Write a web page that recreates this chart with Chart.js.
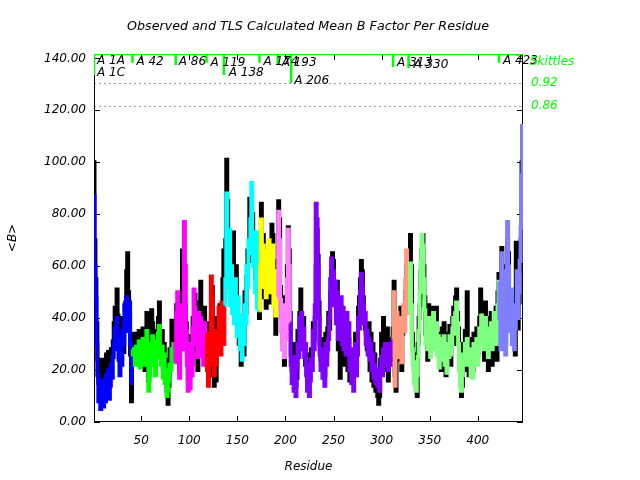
<!DOCTYPE html>
<html><head><meta charset="utf-8">
<script src="https://cdn.jsdelivr.net/npm/chart.js@4/dist/chart.umd.min.js"></script>
<style>html,body{margin:0;padding:0;background:#fff}canvas{display:block}</style>
</head><body>
<canvas id="c" width="640" height="480"></canvas>
<script>
// Observed mean B per residue (black)
const obsB = [
 100,70,55,38,24,15,22,12,20,24, 14,20,17,26,21,27,15,20,28,25, 31,38,44,35,51,41,30,24,36,29, 40,27,37,46,58,65,50,42,26,8, 30,
 30,34,26,33,28,25,35,26,32,22, 36,30,20,33,42,32,16,22,36,43, 38,27,33,22,35,30,40,46,33,26, 35,21,30,18,24,12,7,14,28,25, 39,33,35,27,
 34,45,36,28,20,42,48,66,44,50, 45,38,26,16,24,18,33,22,40,38, 49,28,42,20,46,36,54,30,42,25, 44,32,38,
 24,20,34,18,40,52,30,14,28,16, 40,32,36,45,30,40,55,66,50,
 70,101,85,60,66,55,50,64,73,45, 48,60,42,40,30,34,22,28,40,26, 50,42,56,66,62,86,70,75,80,65, 72,55,60,48,62,40,
 64,84,62,72,48,66,44,60,62,66, 46,70,76,72,50,62,34,58,52,
 85,78,52,40,30,45,22,48,36,60, 75,66,42,
 26,20,30,16,24,14,17,35,28,42, 51,38,32,40,30,22,24,16,26,18, 20,28,26,38,32,40,60,74,64,46,
 30,24,32,21,19,18,34,26,36,42, 36,50,58,65,62,50,48,44,54,28, 40,17,44,26,40,22,36,30,38,20,
 32,16,24,20,26,18,24,34,22,30, 44,48,55,62,58,48,40,36,34,28, 30,38,20,34,16,30,14,26,12,18,
 10,7,10,24,34,22,40,30,26,20, 36,16,32,28,24,30,36,
 54,18,12,38,24,40,30,44,20,34, 40,42,50,60,56,62,46,
 72,60,34,26,20,18,14,10,30,40, 45,58,66,72,60,48,34,42,24,45, 36,30,40,44,38,32,42,44,30,28,
 25,34,20,36,22,38,26,18,24,34, 28,37,22,35,40,44,30,48,51,42, 36,24,18,10,14,30,26,35,20,50,
 30,18,32,24,22,20,34,30,28,36, 26,34,40,51,45,40,42,24,46,28, 40,20,38,26,42,22,30,38,40,44, 24,50,57,
 45,32,67,60,40,55,30,50,70,65, 44,40,48,34,38,32,26,69,60,36, 46,58,70,100,114
];
// TLS calculated mean B per residue (coloured by TLS group)
const calcB = [
 87,60,48,30,18,8,14,5,10,16, 6,12,8,18,12,20,9,14,22,17, 25,30,36,28,40,32,24,18,28,22, 35,30,45,38,48,43,35,46,30,15, 28,
 26,28,22,29,24,27,31,21,28,25, 32,27,22,30,35,28,12,18,30,26, 33,22,29,18,31,25,34,37,28,22, 29,17,26,15,20,10,12,16,22,20, 28,25,30,23,
 30,42,50,24,17,38,45,28,40,77, 60,35,22,12,20,13,30,18,36,51, 44,30,38,25,42,32,40,26,36,22, 38,28,34,
 20,14,30,22,56,48,25,18,32,22, 35,28,44,36,26,46,38,30,45,
 55,88,70,52,74,45,60,42,50,38, 55,40,33,48,36,28,41,24,35,30, 45,38,60,52,70,65,78,92,72,60, 68,50,73,44,58,43,
 60,78,55,68,52,62,48,66,58,70, 50,64,55,68,45,58,41,55,48,
 81,70,47,35,28,40,25,45,32,55, 74,60,38,
 22,15,25,12,18,10,20,30,25,40, 34,42,28,36,25,30,18,12,22,10, 16,24,20,35,28,45,84,78,60,40,
 26,20,28,17,24,14,30,22,28,32, 40,55,63,50,58,45,54,38,50,32, 46,36,48,30,44,28,40,26,42,30,
 38,20,28,15,22,12,20,30,18,26, 40,36,50,57,52,45,38,42,30,35, 26,32,24,30,20,26,17,22,15,20,
 14,18,12,20,25,18,28,22,30,24, 30,20,27,22,30,26,32,
 50,14,30,42,28,36,25,40,23,38, 45,35,55,66,50,58,42,
 61,45,28,22,15,23,12,18,25,35, 50,62,72,68,55,43,30,38,28,40, 32,25,36,30,42,28,35,38,26,33,
 21,30,24,32,27,33,22,28,19,30, 25,33,26,30,36,40,34,42,46,38, 30,20,14,12,18,26,22,30,24,32,
 26,22,28,18,25,17,30,26,24,32, 22,28,36,30,41,35,38,28,40,32, 36,25,35,30,38,28,34,42,36,40, 30,45,54,
 40,28,65,50,35,58,26,45,77,60, 48,35,51,30,42,28,36,45,58,40, 50,62,75,95,114
];
const groupStart = [1, 42, 86, 119, 138, 174, 193, 206, 313, 330, 423];
const groupColor = ['#0000ff','#00ff00','#ff00ff','#ff0000','#00ffff','#ffff00','#ff80ff','#8000ff','#ff9980','#80ff80','#8080ff'];
const xTicks = [50, 100, 150, 200, 250, 300, 350, 400];
const yTicks = [0, 20, 40, 60, 80, 100, 120, 140];
const rightTicks = [0.92, 0.86];
// Skittles trace (right axis)
const skRes = [1, 20, 41, 86, 106, 118, 136, 173, 192, 206, 312, 328, 422, 441];
const skVal = [0.942, 0.992, 0.974, 0.968, 0.990, 0.974, 0.942, 0.974, 0.968, 0.921, 0.963, 0.960, 0.974, 0.992];
// Group labels
const labText = ['A 1A', 'A 1C', 'A 42', 'A 86', 'A 119', 'A 138', 'A 174', 'A 193', 'A 206', 'A 313', 'A 330', 'A 423'];
const labRes  = [1, 1, 42, 86, 119, 138, 174, 193, 206, 313, 330, 423];
const labVal  = [0.976, 0.945, 0.975, 0.974, 0.972, 0.945, 0.975, 0.972, 0.923, 0.970, 0.966, 0.976];

const Y2MAX = 0.9974, Y2MIN = 0.0248;
const residues = obsB.map((_, i) => i + 1);
function groupIndex(r) { let g = 0; for (let i = 0; i < groupStart.length; i++) if (r >= groupStart[i]) g = i; return g; }
const skData = [{x: 1, y: Y2MAX}];
skRes.forEach((r, i) => { skData.push({x: r, y: Y2MAX}, {x: r, y: skVal[i]}, {x: r, y: Y2MAX}); });
skData.push({x: 447, y: Y2MAX});

const F = '"DejaVu Sans", sans-serif';
Chart.defaults.font.family = F;
Chart.defaults.font.size = 12;
Chart.defaults.font.style = 'italic';
Chart.defaults.color = '#000';

const TL = 6;
const decor = {
  id: 'decor',
  beforeDatasetsDraw(chart) {
    const {ctx, chartArea: a, scales} = chart;
    ctx.save();
    ctx.strokeStyle = '#a0a0a0'; ctx.lineWidth = 1; ctx.setLineDash([2, 3]);
    rightTicks.forEach(v => {
      const y = Math.round(scales.y2.getPixelForValue(v)) + 0.5;
      ctx.beginPath(); ctx.moveTo(a.left, y); ctx.lineTo(a.right, y); ctx.stroke();
    });
    ctx.setLineDash([]);
    ctx.strokeStyle = '#000'; ctx.lineWidth = 1;
    ctx.strokeRect(a.left + 0.5, a.top + 0.5, a.right - a.left - 1, a.bottom - a.top - 1);
    ctx.beginPath();
    xTicks.forEach(v => {
      const x = Math.round(scales.x.getPixelForValue(v)) + 0.5;
      ctx.moveTo(x, a.bottom); ctx.lineTo(x, a.bottom - TL);
      ctx.moveTo(x, a.top); ctx.lineTo(x, a.top + TL);
    });
    yTicks.forEach(v => {
      const y = Math.round(scales.y.getPixelForValue(v)) + 0.5;
      ctx.moveTo(a.left, y); ctx.lineTo(a.left + TL, y);
      ctx.moveTo(a.right, y); ctx.lineTo(a.right - TL, y);
    });
    ctx.stroke();
    ctx.restore();
  },
  afterDraw(chart) {
    const {ctx, chartArea: a, scales} = chart;
    ctx.save();
    ctx.fillStyle = '#000';
    ctx.textBaseline = 'middle';
    ctx.font = 'italic 12px ' + F;
    labText.forEach((t, i) => {
      ctx.textAlign = 'left';
      ctx.fillText(t, scales.x.getPixelForValue(labRes[i]) + 3, scales.y2.getPixelForValue(labVal[i]) - 1);
    });
    ctx.fillStyle = '#00ff00';
    ctx.fillText('Skittles', a.right + 7, 62);
    ctx.fillStyle = '#000';
    ctx.textAlign = 'center';
    ctx.fillText('Residue', (a.left + a.right) / 2, 467);
    ctx.save();
    ctx.translate(13, (a.top + a.bottom) / 2);
    ctx.rotate(-Math.PI / 2);
    ctx.fillText('<B>', 0, 0);
    ctx.restore();
    ctx.font = 'italic 12.7px ' + F;
    ctx.fillText('Observed and TLS Calculated Mean B Factor Per Residue', 308, 27);
    ctx.restore();
  }
};

new Chart(document.getElementById('c'), {
  type: 'line',
  data: {
    datasets: [
      {
        label: 'Skittles', data: skData, yAxisID: 'y2', order: 0,
        borderColor: '#00ff00', borderWidth: 2.5, pointRadius: 0, fill: false, tension: 0
      },
      {
        label: 'TLS', data: residues.map((r, i) => ({x: r, y: calcB[i]})), yAxisID: 'y', order: 1,
        borderWidth: 4, pointRadius: 0, fill: false, stepped: 'middle',
        borderColor: groupColor[0],
        segment: { borderColor: c => groupColor[groupIndex(c.p1.parsed.x)] }
      },
      {
        label: 'Observed', data: residues.map((r, i) => ({x: r, y: obsB[i]})), yAxisID: 'y', order: 2,
        borderColor: '#000', borderWidth: 4, pointRadius: 0, fill: false, stepped: 'middle'
      }
    ]
  },
  options: {
    responsive: false, animation: false, devicePixelRatio: 1,
    layout: { padding: { top: 54, left: 0, right: 0, bottom: 0 } },
    plugins: { legend: { display: false }, title: { display: false }, tooltip: { enabled: false } },
    scales: {
      x: {
        type: 'linear', min: 1, max: 447,
        grid: { display: false, drawTicks: false }, border: { display: false },
        afterBuildTicks: s => { s.ticks = xTicks.map(v => ({value: v})); },
        afterFit: s => { s.height = 58; },
        ticks: { padding: 12, maxRotation: 0, autoSkip: false, callback: v => String(v) }
      },
      y: {
        type: 'linear', position: 'left', min: 0, max: 141.7,
        grid: { display: false, drawTicks: false }, border: { display: false },
        afterBuildTicks: s => { s.ticks = yTicks.map(v => ({value: v})); },
        afterFit: s => { s.width = 94; },
        ticks: { padding: 8, autoSkip: false, callback: v => Number(v).toFixed(2) }
      },
      y2: {
        type: 'linear', position: 'right', min: Y2MIN, max: Y2MAX,
        grid: { display: false, drawTicks: false }, border: { display: false },
        afterBuildTicks: s => { s.ticks = rightTicks.map(v => ({value: v})); },
        afterFit: s => { s.width = 117; },
        ticks: { padding: 8, color: '#00ff00', autoSkip: false, callback: v => Number(v).toFixed(2) }
      }
    }
  },
  plugins: [decor]
});
</script>
</body></html>
